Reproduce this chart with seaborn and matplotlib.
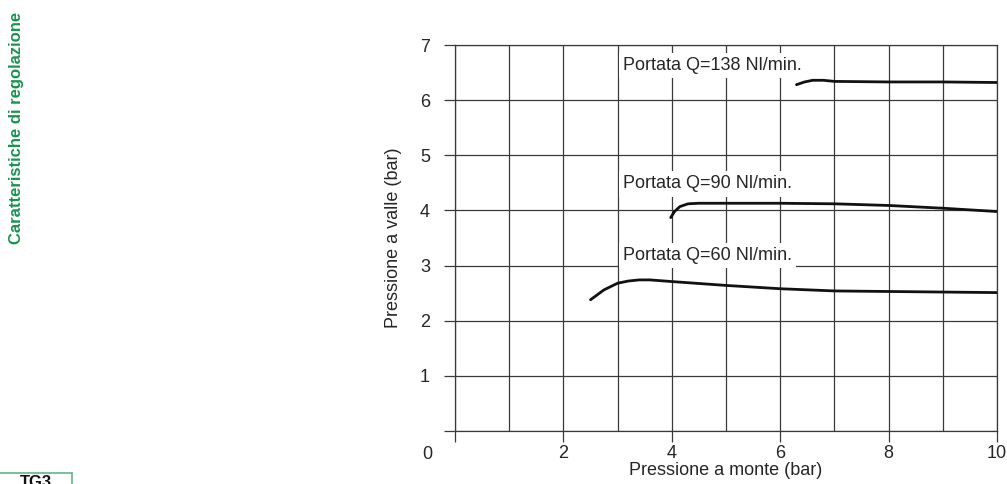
import numpy as np
import pandas as pd
import matplotlib
matplotlib.use("Agg")
import matplotlib.pyplot as plt
from matplotlib.lines import Line2D
import seaborn as sns

# curves (x = upstream pressure, y = downstream pressure, bar)
q60_x = [2.5, 2.75, 3.0, 3.2, 3.4, 3.6, 4.0, 5.0, 6.0, 7.0, 8.0, 9.0, 10.0]
q60_y = [2.38, 2.56, 2.68, 2.72, 2.74, 2.74, 2.71, 2.64, 2.58, 2.54, 2.53, 2.52, 2.51]

q90_x = [3.98, 4.05, 4.15, 4.3, 4.5, 5.0, 6.0, 7.0, 8.0, 9.0, 10.0]
q90_y = [3.87, 3.98, 4.07, 4.12, 4.13, 4.13, 4.13, 4.12, 4.09, 4.04, 3.98]

q138_x = [6.3, 6.45, 6.6, 6.8, 7.0, 8.0, 9.0, 10.0]
q138_y = [6.28, 6.33, 6.36, 6.36, 6.34, 6.33, 6.33, 6.32]

labels = ["Portata Q=60 Nl/min.", "Portata Q=90 Nl/min.", "Portata Q=138 Nl/min."]
label_x = [3.1, 3.1, 3.1]
label_y = [3.18, 4.48, 6.63]

x_ticks = [0, 2, 4, 6, 8, 10]
x_ticklabels = ["", "2", "4", "6", "8", "10"]
y_ticks = [0, 1, 2, 3, 4, 5, 6, 7]
y_ticklabels = ["", "1", "2", "3", "4", "5", "6", "7"]

sns.set_style("white")
plt.rcParams["font.family"] = ["Liberation Sans", "DejaVu Sans"]

grid_col = "#3a3a3a"
fig = plt.figure(figsize=(10.07, 4.84), dpi=100)
ax = fig.add_axes([455 / 1007, 53 / 484, 542 / 1007, 386 / 484])

df = pd.concat([
    pd.DataFrame({"x": q60_x, "y": q60_y, "q": "60"}),
    pd.DataFrame({"x": q90_x, "y": q90_y, "q": "90"}),
    pd.DataFrame({"x": q138_x, "y": q138_y, "q": "138"}),
])
for q, d in df.groupby("q", sort=False):
    sns.lineplot(data=d, x="x", y="y", ax=ax, color="#111111", lw=2.0,
                 sort=True, estimator=None, zorder=4)

ax.set_xlim(0, 10)
ax.set_ylim(0, 7)
ax.set_xticks(x_ticks)
ax.set_xticklabels(x_ticklabels)
ax.set_xticks(range(0, 11), minor=True)
ax.set_yticks(y_ticks)
ax.set_yticklabels(y_ticklabels)
ax.grid(True, which="both", color=grid_col, lw=0.9)
ax.tick_params(axis="x", which="major", direction="out", length=8, width=0.9,
               color=grid_col, labelsize=13, pad=2, bottom=True)
ax.tick_params(axis="x", which="minor", length=0)
ax.tick_params(axis="y", direction="out", length=8, width=0.9,
               color=grid_col, labelsize=13, pad=10, left=True)
for s in ax.spines.values():
    s.set_color(grid_col)
    s.set_linewidth(0.9)

ax.set_xlabel("Pressione a monte (bar)", fontsize=13, labelpad=0)
ax.set_ylabel("Pressione a valle (bar)", fontsize=13, labelpad=13)

for lab, lx, ly in zip(labels, label_x, label_y):
    ax.text(lx, ly, lab, fontsize=13, ha="left", va="center", zorder=5,
            bbox=dict(facecolor="white", edgecolor="none", pad=3))

# corner zero shared by both axes
ax.annotate("0", xy=(0, 0), xycoords="axes fraction", xytext=(-20, -17),
            textcoords="offset points", ha="center", va="center", fontsize=13)

# side heading and page tag
fig.text(17 / 1007, 1 - 128 / 484, "Caratteristiche di regolazione", rotation=90,
         ha="center", va="center", fontsize=12, fontweight="bold", color="#1a9450")
fig.add_artist(Line2D([0, 72 / 1007], [1 - 473 / 484] * 2, transform=fig.transFigure,
                      color="#5cb889", lw=1.2))
fig.add_artist(Line2D([72 / 1007] * 2, [1 - 473 / 484, 0], transform=fig.transFigure,
                      color="#5cb889", lw=1.2))
fig.text(36 / 1007, 1 - 475 / 484, "TG3", ha="center", va="top", fontsize=12,
         fontweight="bold", color="#111111")

fig.savefig("out.png", dpi=100)
